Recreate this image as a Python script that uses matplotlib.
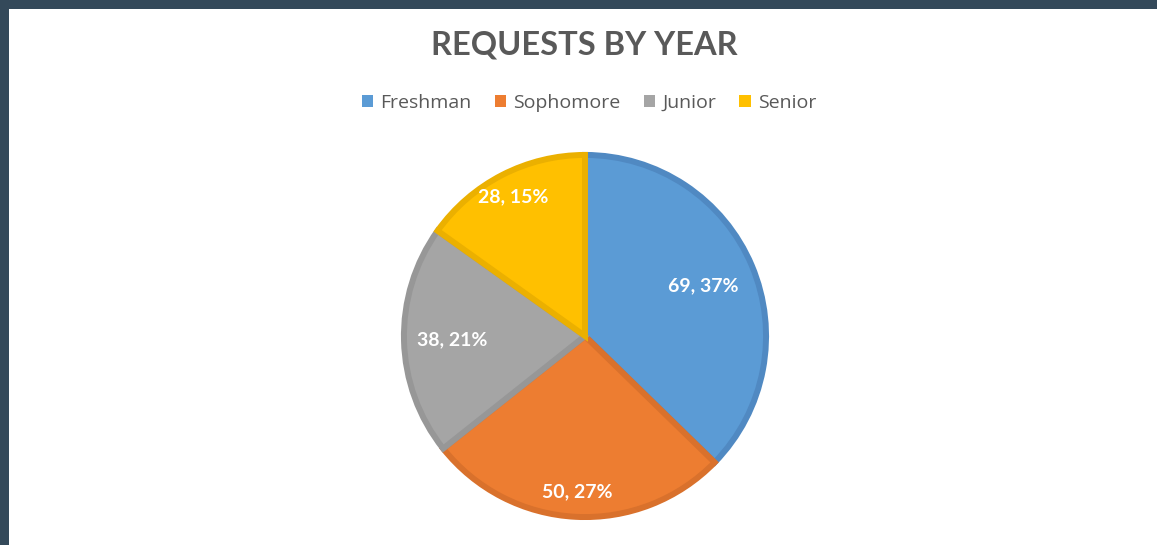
import numpy as np
import matplotlib
matplotlib.use("Agg")
from matplotlib import pyplot as plt
from matplotlib.patches import Rectangle

categories = ["Freshman", "Sophomore", "Junior", "Senior"]
requests = [69, 50, 38, 28]
percent_labels = ["37%", "27%", "21%", "15%"]

colors = ["#5B9BD5", "#ED7D31", "#A5A5A5", "#FFC000"]
edge_colors = ["#5089C2", "#D9712C", "#979797", "#EBB000"]
label_dist = [0.70, 0.85, 0.72, 0.85]   # where excel put the data labels

W, H = 1157, 545
fig = plt.figure(figsize=(W / 100, H / 100), dpi=100)
fig.patch.set_facecolor("#34495A")

# white chart area inside the dark frame
fig.patches.append(Rectangle((9 / W, 0), 1 - 9 / W, 1 - 9 / H,
                             transform=fig.transFigure, facecolor="white",
                             edgecolor="none", zorder=-10))

fig.text(584 / W, 1 - 45 / H, "REQUESTS BY YEAR", ha="center", va="center",
         fontsize=23.5, fontweight="bold", color="#595959", family="Lato")

# pie axes, centre (585, 336), radius 184 px
cx, cy, r = 585, 336, 184
ax = fig.add_axes([(cx - r) / W, (H - cy - r) / H, 2 * r / W, 2 * r / H])

wedges, _ = ax.pie(requests, colors=colors, startangle=90, counterclock=False,
                   radius=0.984, wedgeprops=dict(linewidth=4.3))
for w, ec in zip(wedges, edge_colors):
    w.set_edgecolor(ec)
    w.set_joinstyle("miter")

# pie() sets its own limits, so override afterwards
ax.set_xlim(-1, 1)
ax.set_ylim(-1, 1)
ax.set_aspect("equal")
ax.axis("off")

for w, n, p, d in zip(wedges, requests, percent_labels, label_dist):
    ang = np.deg2rad((w.theta1 + w.theta2) / 2)
    ax.text(d * np.cos(ang), d * np.sin(ang), "%d, %s" % (n, p),
            ha="center", va="center", fontsize=14, fontweight="bold",
            color="white", family="Lato")

handles = [Rectangle((0, 0), 1, 1, facecolor=c, edgecolor="none") for c in colors]
leg = fig.legend(handles, categories, loc="center", bbox_to_anchor=(589 / W, 1 - 103 / H),
                 ncol=4, frameon=False, handlelength=0.6, handleheight=0.6,
                 handletextpad=0.35, columnspacing=1.2,
                 prop=dict(family="Open Sans", size=14))
for t in leg.get_texts():
    t.set_color("#595959")

fig.savefig("out.png", dpi=100, facecolor=fig.get_facecolor())
